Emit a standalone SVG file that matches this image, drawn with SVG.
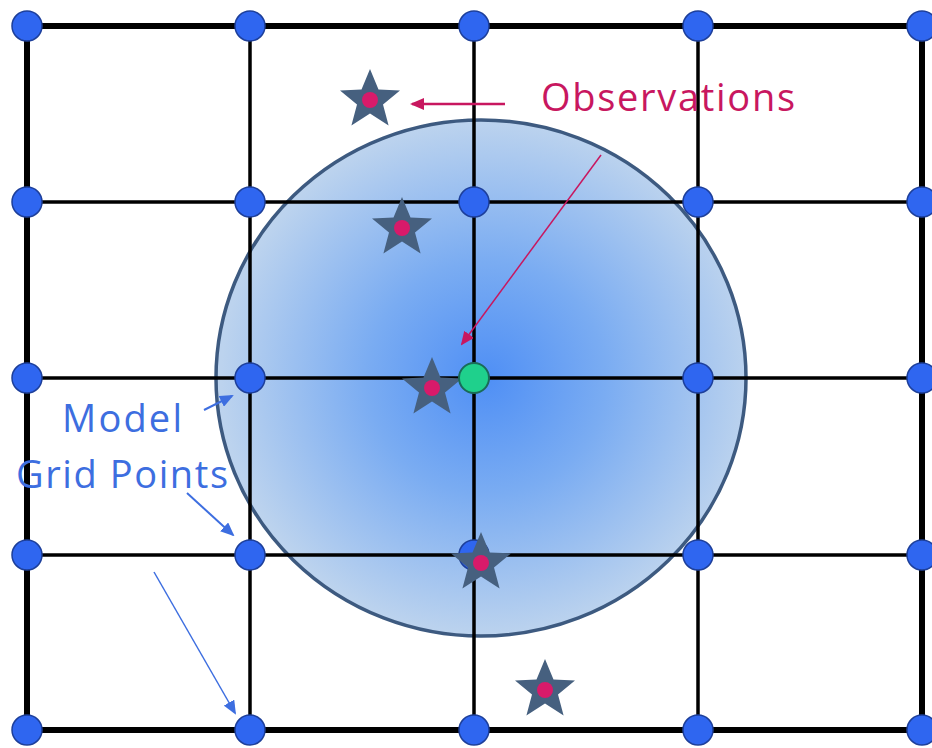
<svg xmlns="http://www.w3.org/2000/svg" width="932" height="748" viewBox="0 0 932 748">
<defs>
<radialGradient id="g" cx="0.51" cy="0.5" r="0.5">
<stop offset="0" stop-color="#4f8ff5"/>
<stop offset="0.45" stop-color="#7aacf2"/>
<stop offset="1" stop-color="#bcd3ee"/>
</radialGradient>
<marker id="mp2" markerWidth="14" markerHeight="12" refX="12" refY="6" orient="auto" markerUnits="userSpaceOnUse"><path d="M0,0 L14,6 L0,12 Z" fill="#c8175f"/></marker>
<marker id="mb" markerWidth="14" markerHeight="12" refX="12" refY="6" orient="auto" markerUnits="userSpaceOnUse"><path d="M0,0 L14,6 L0,12 Z" fill="#3d6ee0"/></marker>
<g id="star"><polygon points="0,-31 8.5,-10.5 30,-9.6 13,4.5 18.6,25.5 0,13.5 -18.6,25.5 -13,4.5 -30,-9.6 -8.5,-10.5" fill="#46607f"/><circle r="8" fill="#d81a6a"/></g>
</defs>
<style>
.gl{stroke:#000;stroke-width:3.5;fill:none}
.go{stroke:#000;stroke-width:6;fill:none}
.pt{fill:#2f66f0;stroke:#1d3f9a;stroke-width:1.5}
.lbl{font-family:"Open Sans","Liberation Sans",sans-serif;font-size:38px}
</style>
<rect width="932" height="748" fill="#fff"/>
<ellipse id="region" cx="481" cy="378" rx="265" ry="258" fill="url(#g)" stroke="#3d5a80" stroke-width="3.5"/>
<g id="grid">
<line class="go" x1="27" y1="26" x2="922" y2="26"/>
<line class="gl" x1="27" y1="202" x2="922" y2="202"/>
<line class="gl" x1="27" y1="378" x2="922" y2="378"/>
<line class="gl" x1="27" y1="555" x2="922" y2="555"/>
<line class="go" x1="27" y1="730" x2="922" y2="730"/>
<line class="go" x1="27" y1="26" x2="27" y2="730"/>
<line class="gl" x1="250" y1="26" x2="250" y2="730"/>
<line class="gl" x1="474" y1="26" x2="474" y2="730"/>
<line class="gl" x1="698" y1="26" x2="698" y2="730"/>
<line class="go" x1="922" y1="26" x2="922" y2="730"/>
</g>
<g id="points">
<circle class="pt" cx="27" cy="26" r="15"/><circle class="pt" cx="250" cy="26" r="15"/><circle class="pt" cx="474" cy="26" r="15"/><circle class="pt" cx="698" cy="26" r="15"/><circle class="pt" cx="922" cy="26" r="15"/>
<circle class="pt" cx="27" cy="202" r="15"/><circle class="pt" cx="250" cy="202" r="15"/><circle class="pt" cx="474" cy="202" r="15"/><circle class="pt" cx="698" cy="202" r="15"/><circle class="pt" cx="922" cy="202" r="15"/>
<circle class="pt" cx="27" cy="378" r="15"/><circle class="pt" cx="250" cy="378" r="15"/><circle class="pt" cx="698" cy="378" r="15"/><circle class="pt" cx="922" cy="378" r="15"/>
<circle class="pt" cx="27" cy="555" r="15"/><circle class="pt" cx="250" cy="555" r="15"/><circle class="pt" cx="474" cy="555" r="15"/><circle class="pt" cx="698" cy="555" r="15"/><circle class="pt" cx="922" cy="555" r="15"/>
<circle class="pt" cx="27" cy="730" r="15"/><circle class="pt" cx="250" cy="730" r="15"/><circle class="pt" cx="474" cy="730" r="15"/><circle class="pt" cx="698" cy="730" r="15"/><circle class="pt" cx="922" cy="730" r="15"/>
</g>
<g id="stars">
<use href="#star" x="370" y="100"/>
<use href="#star" x="402" y="228"/>
<use href="#star" x="432" y="388"/>
<use href="#star" x="481" y="563"/>
<use href="#star" x="545" y="690"/>
</g>
<g id="center"><circle cx="474" cy="378" r="15" fill="#1fd08c" stroke="#1a6b58" stroke-width="2"/></g>
<g id="connectors">
<line x1="505" y1="104" x2="412" y2="104" stroke="#c8175f" stroke-width="2.5" marker-end="url(#mp2)"/>
<line x1="601" y1="155" x2="462" y2="344" stroke="#c8175f" stroke-width="1.5" marker-end="url(#mp2)"/>
<line x1="204" y1="410" x2="232" y2="396" stroke="#3d6ee0" stroke-width="2" marker-end="url(#mb)"/>
<line x1="187" y1="493" x2="233" y2="535" stroke="#3d6ee0" stroke-width="2" marker-end="url(#mb)"/>
<line x1="154" y1="572" x2="235" y2="713" stroke="#3d6ee0" stroke-width="1.5" marker-end="url(#mb)"/>
</g>
<g id="labels">
<text class="lbl" x="541" y="111" fill="#c8175f" textLength="254" lengthAdjust="spacing">Observations</text>
<text class="lbl" x="62" y="432" fill="#3d6ee0" textLength="120" lengthAdjust="spacing">Model</text>
<text class="lbl" x="16" y="488" fill="#3d6ee0" textLength="212" lengthAdjust="spacing">Grid Points</text>
</g>
</svg>
